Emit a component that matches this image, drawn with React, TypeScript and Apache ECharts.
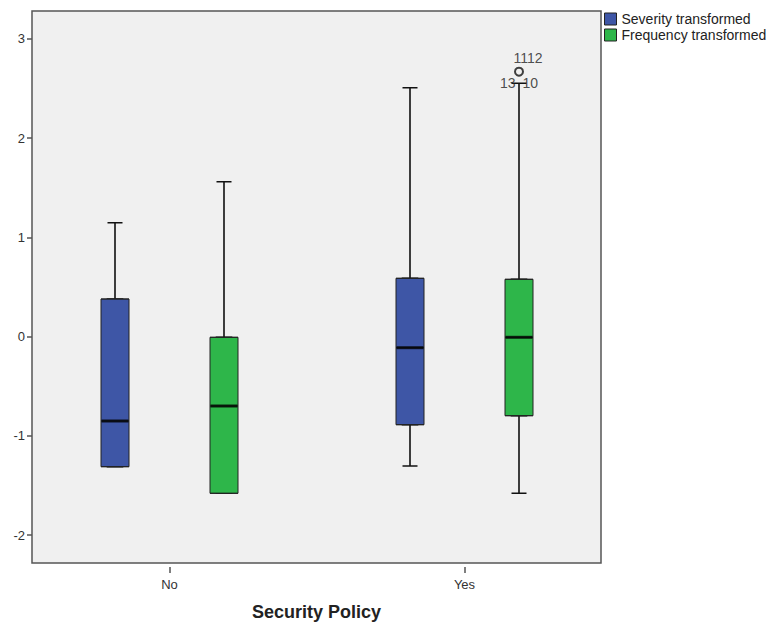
import React, { useEffect, useRef } from "react";
import * as echarts from "echarts";

// ---- data ----
const categories = ["No", "Yes"];
const seriesNames = ["Severity transformed", "Frequency transformed"];
// [min, Q1, median, Q3, max]
const severityBoxes = [
  [-1.277, -1.277, -0.82, 0.40, 1.163],
  [-1.27, -0.857, -0.087, 0.607, 2.513],
];
const frequencyBoxes = [
  [-1.543, -1.543, -0.67, 0.017, 1.573],
  [-1.543, -0.767, 0.017, 0.597, 2.557],
];
const outlierPoints = [{ cat: "Yes", value: 2.673, label: "1112" }];
const caseLabelsLeft = [{ cat: "Yes", value: 2.557, label: "13" }];
const caseLabelsRight = [{ cat: "Yes", value: 2.557, label: "10" }];
const yTicks = [-2, -1, 0, 1, 2, 3];
const yMin = -2.28;
const yMax = 3.28;
const xAxisTitle = "Security Policy";

const BLUE = "#3e56a6";
const GREEN = "#2eb64a";
const FONT = "Arial, 'Liberation Sans', sans-serif";

export default function App() {
  const ref = useRef<HTMLDivElement>(null);
  useEffect(() => {
    if (!ref.current) return;
    const chart = echarts.init(ref.current, null, { renderer: "svg" });
    const top = 11;
    const height = 556;
    const grids = [
      { left: 32, top, width: 569, height, show: true, backgroundColor: "#f0f0f0", borderColor: "#555", borderWidth: 1.5 },
      { left: 115, top, width: 295, height },
      { left: 115, top, width: 295, height },
      { left: 224, top, width: 295, height },
      { left: 224, top, width: 295, height },
      { left: 169.5, top, width: 295, height },
    ];
    const hiddenX = (i: number) => ({
      type: "category",
      gridIndex: i,
      data: categories,
      boundaryGap: false,
      show: false,
    });
    const hiddenY = (i: number) => ({
      type: "value",
      gridIndex: i,
      min: yMin,
      max: yMax,
      show: false,
      splitLine: { show: false },
    });
    const xAxes: any[] = [
      {
        type: "category",
        gridIndex: 0,
        data: categories,
        axisLine: { show: false, onZero: false },
        axisTick: { show: false },
        axisLabel: { show: false },
        name: xAxisTitle,
        nameLocation: "middle",
        nameGap: 40,
        nameTextStyle: { fontFamily: FONT, fontWeight: "bold", fontSize: 18, color: "#222" },
      },
      hiddenX(1),
      hiddenX(2),
      hiddenX(3),
      hiddenX(4),
      {
        type: "category",
        gridIndex: 5,
        data: categories,
        boundaryGap: false,
        position: "bottom",
        axisLine: { show: false, onZero: false },
        axisTick: { show: true, length: 6, lineStyle: { color: "#555", width: 1.5 } },
        axisLabel: { margin: 11, fontFamily: FONT, fontSize: 13, color: "#333" },
      },
    ];
    const yAxes: any[] = [
      {
        type: "value",
        gridIndex: 0,
        min: yMin,
        max: yMax,
        axisLine: { show: false, onZero: false },
        splitLine: { show: false },
        axisTick: { show: true, length: 5, customValues: yTicks, lineStyle: { color: "#555", width: 1.5 } },
        axisLabel: { customValues: yTicks, margin: 7, fontFamily: FONT, fontSize: 13, color: "#333" },
      },
      hiddenY(1),
      hiddenY(2),
      hiddenY(3),
      hiddenY(4),
      hiddenY(5),
    ];
    const boxSeries = (name: string, idx: number, data: number[][], color: string, width: number, wide: boolean) => ({
      type: "boxplot",
      name,
      xAxisIndex: idx,
      yAxisIndex: idx,
      boxWidth: [width, width],
      data: wide ? data.map((d) => [d[1], d[1], d[2], d[3], d[3]]) : data,
      itemStyle: { color, borderColor: wide ? "#222" : "#111", borderWidth: wide ? 1 : 1.6 },
      emphasis: { disabled: true },
      silent: true,
    });
    const medianSeries = (idx: number, data: number[][]) => ({
      type: "scatter",
      xAxisIndex: idx,
      yAxisIndex: idx,
      symbol: "rect",
      symbolSize: [27, 3],
      itemStyle: { color: "#000" },
      data: data.map((d, i) => [categories[i], d[2]]),
      silent: true,
    });
    const labelSeries = (idx: number, pts: any[], position: string) => ({
      type: "scatter",
      xAxisIndex: idx,
      yAxisIndex: idx,
      symbolSize: 1,
      itemStyle: { color: "transparent" },
      data: pts.map((p) => ({ value: [p.cat, p.value], label: { formatter: p.label } })),
      label: { show: true, position, distance: 3, fontFamily: FONT, fontSize: 14, color: "#222" },
      silent: true,
    });
    const legendColors = [BLUE, GREEN];
    chart.setOption({
      animation: false,
      grid: grids,
      xAxis: xAxes,
      yAxis: yAxes,
      legend: {
        data: seriesNames.map((n, i) => ({
          name: n,
          icon: "rect",
          itemStyle: { color: legendColors[i], borderColor: "#222", borderWidth: 1 },
        })),
        orient: "vertical",
        left: 604,
        top: 12,
        itemWidth: 12,
        itemHeight: 12,
        itemGap: 2,
        itemTextGap: 4,
        padding: 0,
        selectedMode: false,
        textStyle: { fontFamily: FONT, fontSize: 14, color: "#222", lineHeight: 14 },
      },
      series: [
        labelSeries(3, caseLabelsLeft, "left"),
        labelSeries(3, caseLabelsRight, "right"),
        boxSeries("sev-whisker", 1, severityBoxes, BLUE, 15, false),
        boxSeries("freq-whisker", 3, frequencyBoxes, GREEN, 15, false),
        boxSeries(seriesNames[0], 2, severityBoxes, BLUE, 28, true),
        boxSeries(seriesNames[1], 4, frequencyBoxes, GREEN, 28, true),
        medianSeries(2, severityBoxes),
        medianSeries(4, frequencyBoxes),
        {
          type: "scatter",
          xAxisIndex: 4,
          yAxisIndex: 4,
          symbol: "circle",
          symbolSize: 8,
          itemStyle: { color: "#f0f0f0", borderColor: "#111", borderWidth: 2 },
          data: outlierPoints.map((p) => ({ value: [p.cat, p.value], label: { formatter: p.label } })),
          label: { show: true, position: "top", distance: 2, offset: [9, 0], fontFamily: FONT, fontSize: 14, color: "#222" },
          silent: true,
        },
      ],
    });
    return () => chart.dispose();
  }, []);
  return <div ref={ref} style={{ width: 767, height: 626, position: "absolute", left: 0, top: 0 }} />;
}
